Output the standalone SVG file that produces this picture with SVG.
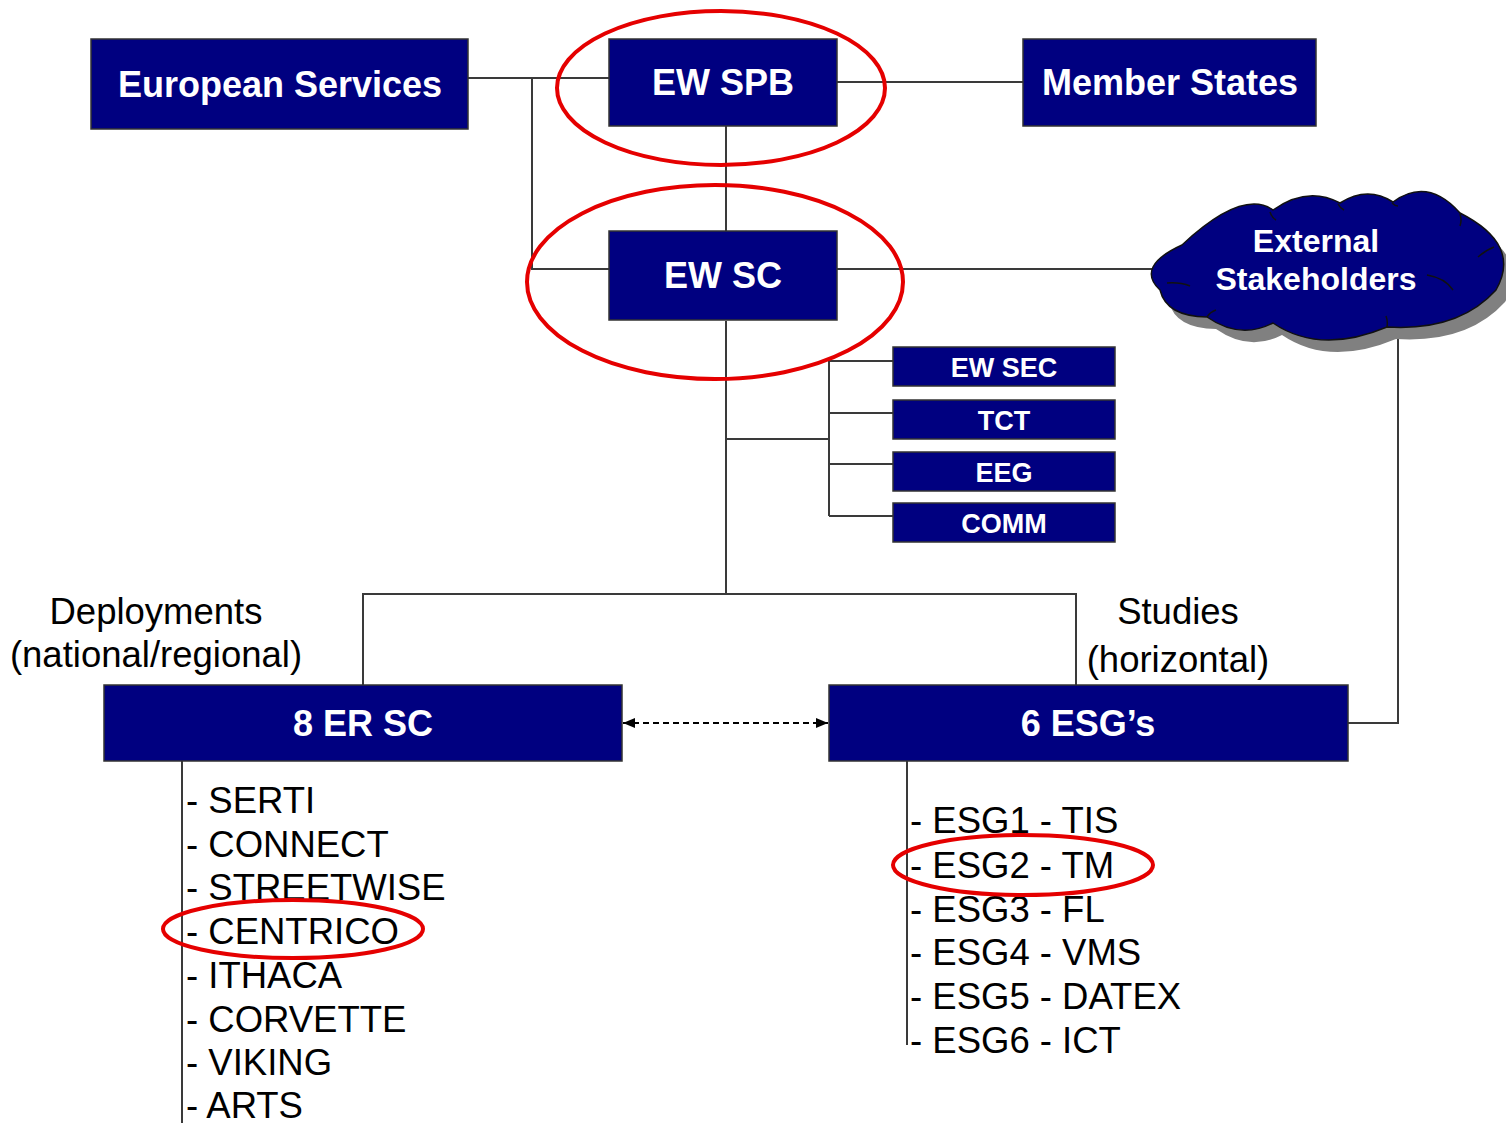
<svg xmlns="http://www.w3.org/2000/svg" width="1506" height="1123" viewBox="0 0 1506 1123">
<style>
.box{fill:#000080;stroke:#333;stroke-width:1.5}
.bt{font-family:"Liberation Sans",Arial,sans-serif;font-weight:bold;fill:#fff;text-anchor:middle}
.ln{fill:none;stroke:#3a3a3a;stroke-width:2}
.lt{font-family:"Liberation Sans",Arial,sans-serif;font-size:36.5px;fill:#000}
.ring{fill:none;stroke:#e50000;stroke-width:4}
</style>
<defs>
<marker id="ah" viewBox="0 0 12 10" refX="12" refY="5" markerWidth="12" markerHeight="10" markerUnits="userSpaceOnUse" orient="auto-start-reverse">
<path d="M0,0 L12,5 L0,10 Z" fill="#000"/>
</marker>
<path id="cloud" d="M1182,245 Q1242.5,188.5 1273,210 Q1307.5,185.5 1340,203 Q1367.5,185.5 1393,202 Q1427.5,176.5 1460,213 Q1522,244.5 1496,290 Q1458.5,331.5 1387,327 Q1320,355 1273,323 Q1240,340 1207,317 Q1166.5,316.5 1160,290 Q1135,266.5 1182,245 Z"/>
</defs>
<rect width="1506" height="1123" fill="#fff"/>
<g id="connectors">
<path class="ln" d="M468,78 H609 M532,78 V269 H609"/>
<path class="ln" d="M837,82 H1023"/>
<path class="ln" d="M726,116 V231"/>
<path class="ln" d="M837,269 H1168"/>
<path class="ln" d="M726,321 V594"/>
<path class="ln" d="M726,439 H829 M829,361 V516 M829,361 H893 M829,413 H893 M829,464 H893 M829,516 H893"/>
<path class="ln" d="M363,685 V594 H1076 V685"/>
<path class="ln" d="M1398,335 V723 H1348"/>
<path class="ln" d="M182,735 V1123"/>
<path class="ln" d="M907,761 V1045"/>
<line x1="623" y1="723" x2="828" y2="723" stroke="#000" stroke-width="2" stroke-dasharray="6,4" marker-start="url(#ah)" marker-end="url(#ah)"/>
</g>
<g id="european-services">
<rect class="box" x="91" y="39" width="377" height="90"/>
<text class="bt" x="280" y="97" font-size="36">European Services</text>
</g>
<g id="ew-spb">
<rect class="box" x="609" y="39" width="228" height="87"/>
<text class="bt" x="723" y="95" font-size="36">EW SPB</text>
</g>
<g id="member-states">
<rect class="box" x="1023" y="39" width="293" height="87"/>
<text class="bt" x="1170" y="95" font-size="36">Member States</text>
</g>
<g id="ew-sc">
<rect class="box" x="609" y="231" width="228" height="89"/>
<text class="bt" x="723" y="288" font-size="36">EW SC</text>
</g>
<g id="external-stakeholders">
<use href="#cloud" transform="translate(9,12)" fill="#808080"/>
<use href="#cloud" fill="#000080" stroke="#111" stroke-width="1.5"/>
<path fill="none" stroke="#111" stroke-width="1.5" d="M1167,283 Q1180,282 1190,286 M1207,317 Q1210,312 1216,310 M1270,212 Q1272,218 1276,220 M1338,204 Q1340,208 1344,210 M1392,203 Q1395,206 1398,206 M1460,214 Q1462,220 1460,226 M1478,257 Q1486,250 1494,247 M1427,275 Q1445,278 1453,290 M1387,327 Q1388,321 1386,316"/>
<text class="bt" x="1316" y="252" font-size="32">External</text>
<text class="bt" x="1316" y="290" font-size="32">Stakeholders</text>
</g>
<g id="ew-sec">
<rect class="box" x="893" y="347" width="222" height="39"/>
<text class="bt" x="1004" y="377" font-size="27">EW SEC</text>
</g>
<g id="tct">
<rect class="box" x="893" y="400" width="222" height="39"/>
<text class="bt" x="1004" y="430" font-size="27">TCT</text>
</g>
<g id="eeg">
<rect class="box" x="893" y="452" width="222" height="39"/>
<text class="bt" x="1004" y="482" font-size="27">EEG</text>
</g>
<g id="comm">
<rect class="box" x="893" y="503" width="222" height="39"/>
<text class="bt" x="1004" y="533" font-size="27">COMM</text>
</g>
<g id="er-sc">
<rect class="box" x="104" y="685" width="518" height="76"/>
<text class="bt" x="363" y="736" font-size="36">8 ER SC</text>
</g>
<g id="esgs">
<rect class="box" x="829" y="685" width="519" height="76"/>
<text class="bt" x="1088" y="736" font-size="36">6 ESG’s</text>
</g>
<g id="labels">
<text class="lt" x="156" y="624" text-anchor="middle">Deployments</text>
<text class="lt" x="156" y="667" text-anchor="middle">(national/regional)</text>
<text class="lt" x="1178" y="624" text-anchor="middle">Studies</text>
<text class="lt" x="1178" y="672" text-anchor="middle">(horizontal)</text>
</g>
<g id="er-list">
<text class="lt" x="186" y="813">- SERTI</text>
<text class="lt" x="186" y="857">- CONNECT</text>
<text class="lt" x="186" y="900">- STREETWISE</text>
<text class="lt" x="186" y="944">- CENTRICO</text>
<text class="lt" x="186" y="988">- ITHACA</text>
<text class="lt" x="186" y="1032">- CORVETTE</text>
<text class="lt" x="186" y="1075">- VIKING</text>
<text class="lt" x="186" y="1118">- ARTS</text>
</g>
<g id="esg-list">
<text class="lt" x="910" y="833">- ESG1 - TIS</text>
<text class="lt" x="910" y="878">- ESG2 - TM</text>
<text class="lt" x="910" y="922">- ESG3 - FL</text>
<text class="lt" x="910" y="965">- ESG4 - VMS</text>
<text class="lt" x="910" y="1009">- ESG5 - DATEX</text>
<text class="lt" x="910" y="1053">- ESG6 - ICT</text>
</g>
<g id="highlights">
<ellipse class="ring" cx="721" cy="88" rx="164" ry="77"/>
<ellipse class="ring" cx="715" cy="282" rx="188" ry="97"/>
<ellipse class="ring" cx="293" cy="929" rx="130" ry="29"/>
<ellipse class="ring" cx="1023" cy="865" rx="130" ry="30"/>
</g>
</svg>
